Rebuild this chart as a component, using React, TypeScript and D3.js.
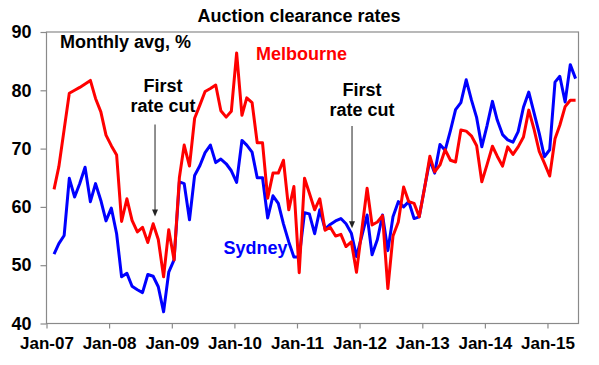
import React, { useEffect, useRef } from 'react';
import * as d3 from 'd3';

const chartTitle = 'Auction clearance rates';
const unitLabel = 'Monthly avg, %';
const startYear = 2007;
const startMonth = 1; // first observation: Feb-07
const sydney = [
  51.9, 53.7, 55.1, 64.9, 61.7, 64.0, 66.8, 60.9, 64.0, 61.1,
  57.6, 59.8, 55.4, 48.0, 48.6, 46.4, 45.8, 45.3, 48.4, 48.1,
  46.3, 42.0, 48.8, 50.9, 64.3, 64.0, 57.8, 65.4, 67.1, 69.3,
  70.6, 67.6, 68.2, 67.4, 66.2, 64.2, 71.4, 70.6, 69.4, 65.0,
  65.0, 58.1, 61.9, 60.6, 57.1, 54.0, 51.4, 51.4, 59.0, 58.8,
  55.4, 59.5, 56.2, 57.0, 57.6, 58.0, 57.1, 55.5, 51.5, 55.0,
  58.6, 51.8, 54.4, 58.6, 52.5, 58.3, 60.9, 60.0, 60.9, 58.0,
  58.3, 63.3, 68.0, 65.8, 70.7, 69.7, 73.1, 76.7, 77.9, 81.8,
  78.4, 75.3, 70.3, 74.0, 78.1, 74.9, 72.4, 71.5, 71.1, 72.9,
  77.1, 79.7, 76.2, 72.6, 68.6, 69.8, 81.4, 82.4, 78.0, 84.4, 82.0,
];
const melbourne = [
  63.0, 66.9, 73.3, 79.5, 80.0, 80.5, 81.1, 81.7, 78.6, 76.3,
  72.3, 70.5, 68.9, 57.5, 61.4, 57.7, 55.7, 56.5, 53.9, 57.1,
  54.4, 48.0, 56.1, 50.9, 65.0, 70.6, 67.0, 75.2, 77.5, 79.8,
  80.3, 80.9, 76.5, 75.4, 76.4, 86.4, 75.7, 78.7, 77.9, 71.0,
  71.0, 61.5, 65.8, 65.8, 68.0, 59.5, 63.5, 48.7, 64.9, 62.4,
  59.5, 61.4, 56.0, 56.5, 55.0, 55.3, 53.2, 54.0, 48.8, 56.0,
  63.2, 56.9, 57.4, 58.5, 46.0, 55.0, 57.4, 63.4, 60.9, 60.6,
  58.3, 63.2, 68.7, 66.0, 67.2, 69.8, 68.0, 67.7, 73.2, 73.0,
  72.2, 70.5, 64.3, 67.3, 70.4, 68.7, 67.0, 70.3, 69.0, 70.3,
  72.0, 76.6, 73.4, 69.5, 67.5, 65.3, 71.7, 74.0, 77.2, 78.3, 78.3,
];
const yTicks = [40, 50, 60, 70, 80, 90];
const xTickYears = [2007, 2008, 2009, 2010, 2011, 2012, 2013, 2014, 2015];
const rateCutDates = [new Date(2008, 8, 25), new Date(2011, 10, 18)];
const rateCutText = ['First', 'rate cut'];

const FONT = '"Liberation Sans", Arial, Helvetica, sans-serif';

export default function App() {
  const ref = useRef<SVGSVGElement>(null);

  useEffect(() => {
    const svg = d3.select(ref.current);
    svg.selectAll('*').remove();

    const L = 46.5, R = 578.5, T = 32, B = 323.5;
    const x = d3.scaleTime()
      .domain([new Date(2007, 0, 1), new Date(2015, 6, 1)])
      .range([L, R]);
    const y = d3.scaleLinear().domain([40, 90]).range([B, T]);

    const dateOf = (i: number) => new Date(startYear, startMonth + i, 14);
    const sydData = sydney.map((v, i) => ({ d: dateOf(i), v }));
    const melData = melbourne.map((v, i) => ({ d: dateOf(i), v }));

    const axisColor = '#8a8a8a';

    // frame
    svg.append('rect')
      .attr('x', L).attr('y', T)
      .attr('width', R - L).attr('height', B - T)
      .attr('fill', 'none').attr('stroke', axisColor).attr('stroke-width', 1.2);

    // y axis
    const gy = svg.append('g').attr('transform', `translate(${L},0)`)
      .call(d3.axisLeft(y).tickValues(yTicks).tickSize(6).tickPadding(9).tickFormat(d3.format('d')));
    gy.select('.domain').remove();
    gy.selectAll('line').attr('stroke', axisColor).attr('stroke-width', 1.2);
    gy.selectAll('text')
      .attr('font-family', FONT).attr('font-size', 18).attr('font-weight', 'bold')
      .attr('fill', '#000');

    // x axis
    const gx = svg.append('g').attr('transform', `translate(0,${B})`)
      .call(d3.axisBottom(x)
        .tickValues(xTickYears.map(yr => new Date(yr, 0, 1)))
        .tickSize(5)
        .tickPadding(9)
        .tickFormat(d3.timeFormat('%b-%y') as any));
    gx.select('.domain').remove();
    gx.selectAll('line').attr('stroke', axisColor).attr('stroke-width', 1.2);
    gx.selectAll('text')
      .attr('font-family', FONT).attr('font-size', 17).attr('font-weight', 'bold')
      .attr('fill', '#000').attr('dy', '0.68em');

    const line = d3.line<{ d: Date; v: number }>()
      .x(p => x(p.d)).y(p => y(p.v));

    svg.append('path').datum(sydData)
      .attr('d', line).attr('fill', 'none').attr('stroke', '#0000ff')
      .attr('stroke-width', 3).attr('stroke-linejoin', 'round');
    svg.append('path').datum(melData)
      .attr('d', line).attr('fill', 'none').attr('stroke', '#ff0000')
      .attr('stroke-width', 3).attr('stroke-linejoin', 'round');

    // texts
    const txt = (s: string, tx: number, ty: number, color: string, anchor = 'start', size = 18) =>
      svg.append('text').attr('x', tx).attr('y', ty).text(s)
        .attr('font-family', FONT).attr('font-size', size).attr('font-weight', 'bold')
        .attr('fill', color).attr('text-anchor', anchor);

    txt(chartTitle, 299, 22, '#000', 'middle');
    txt(unitLabel, 60, 48, '#000');
    txt('Melbourne', 256, 60, '#ff0000');
    txt('Sydney', 223.5, 253.5, '#0000ff');

    // rate cut annotations
    const annot = [
      { date: rateCutDates[0], tx: 163, ty: 91.7, top: 124.5, tip: 216.5 },
      { date: rateCutDates[1], tx: 362, ty: 95.7, top: 126, tip: 228.3 },
    ];
    annot.forEach(a => {
      txt(rateCutText[0], a.tx, a.ty, '#000', 'middle');
      txt(rateCutText[1], a.tx, a.ty + 20, '#000', 'middle');
      const ax = x(a.date);
      svg.append('line')
        .attr('x1', ax).attr('x2', ax).attr('y1', a.top).attr('y2', a.tip - 6)
        .attr('stroke', '#222').attr('stroke-width', 1);
      svg.append('path')
        .attr('d', `M${ax - 3},${a.tip - 7} L${ax + 3},${a.tip - 7} L${ax},${a.tip} Z`)
        .attr('fill', '#222');
    });
  }, []);

  return (
    <svg
      ref={ref}
      width={599}
      height={365}
      style={{ position: 'absolute', left: 0, top: 0, background: '#fff' }}
    />
  );
}
